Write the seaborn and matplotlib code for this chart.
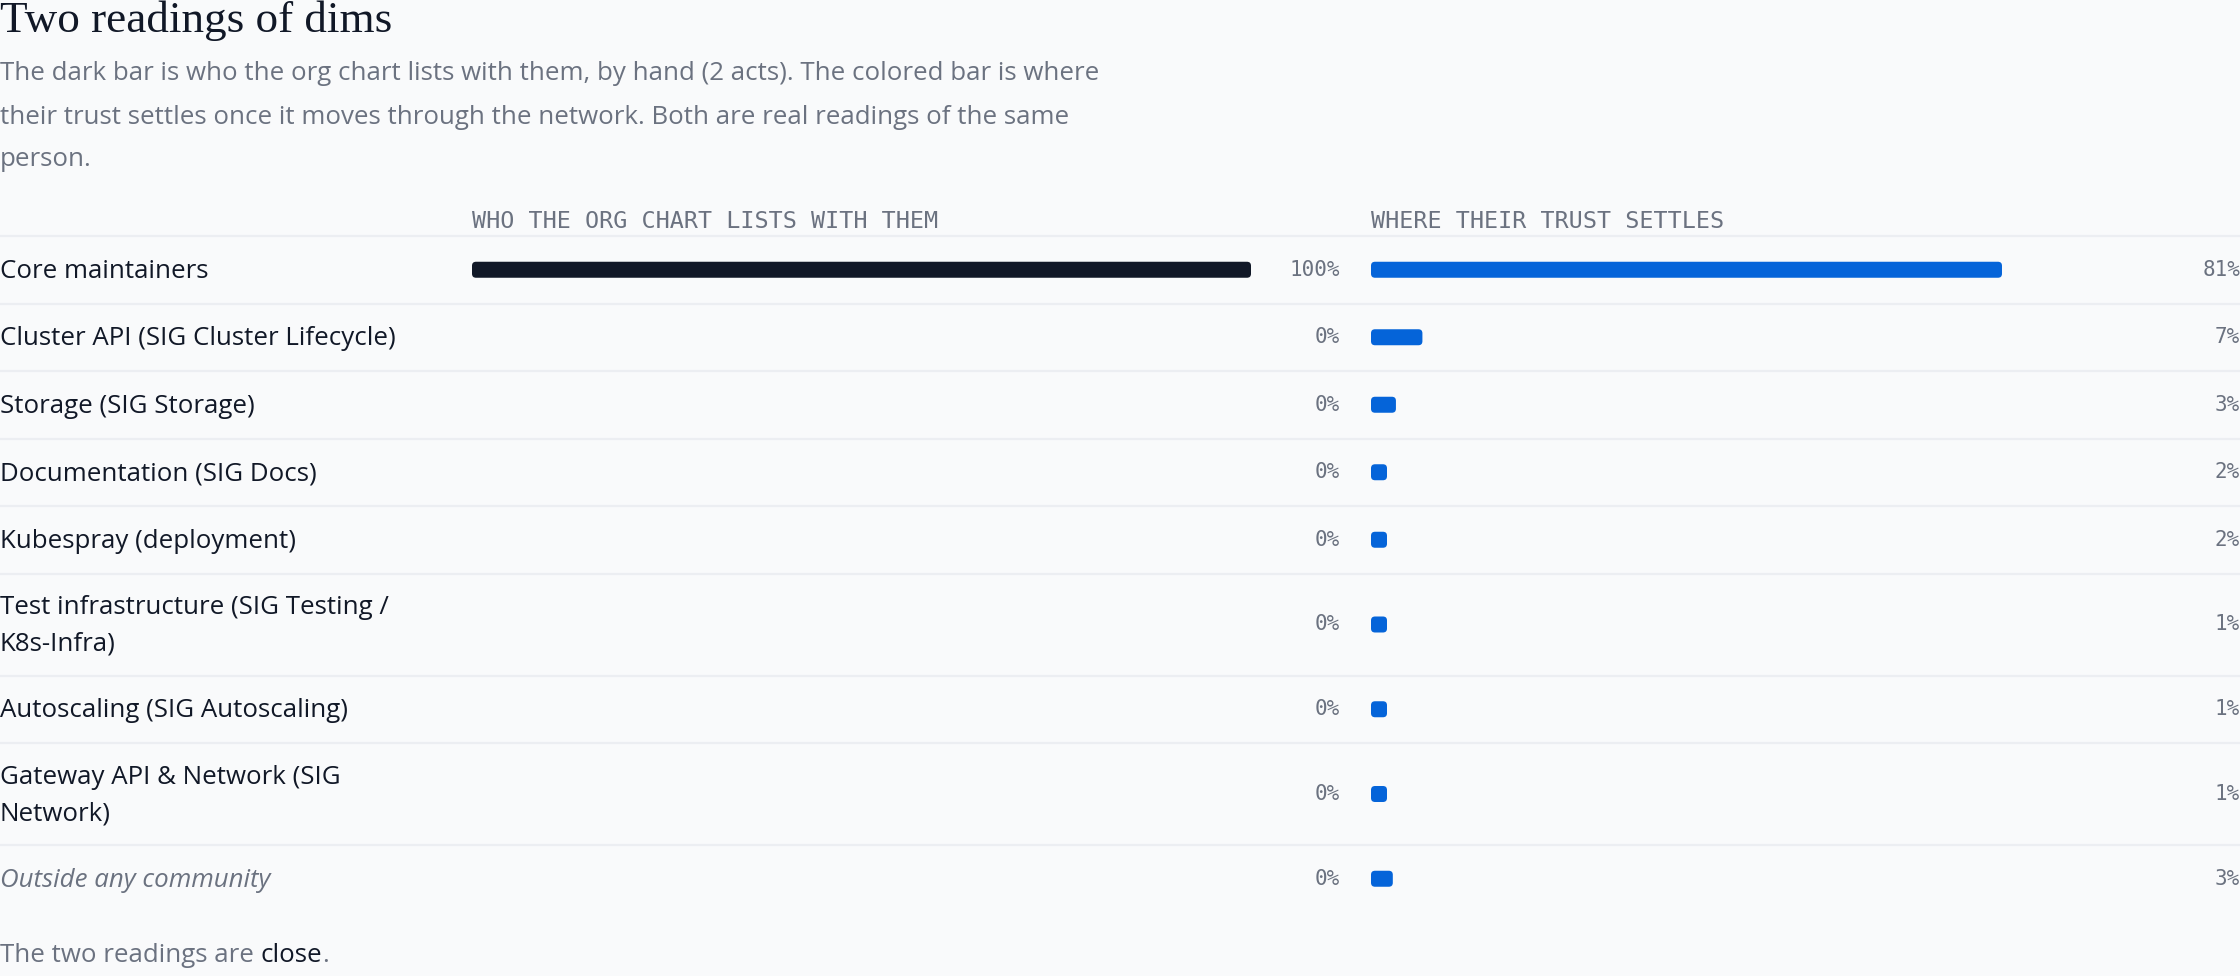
import numpy as np
import pandas as pd
import matplotlib
matplotlib.use("Agg")
import matplotlib.pyplot as plt
import seaborn as sns
from matplotlib.patches import FancyBboxPatch
from matplotlib.transforms import IdentityTransform

# data
title = "Two readings of dims"
subtitle_lines = [
    "The dark bar is who the org chart lists with them, by hand (2 acts). The colored bar is where",
    "their trust settles once it moves through the network. Both are real readings of the same",
    "person.",
]
col_headers = ["WHO THE ORG CHART LISTS WITH THEM", "WHERE THEIR TRUST SETTLES"]
groups = [
    "Core maintainers",
    "Cluster API (SIG Cluster Lifecycle)",
    "Storage (SIG Storage)",
    "Documentation (SIG Docs)",
    "Kubespray (deployment)",
    "Test infrastructure (SIG Testing /\nK8s-Infra)",
    "Autoscaling (SIG Autoscaling)",
    "Gateway API & Network (SIG\nNetwork)",
    "Outside any community",
]
org_chart = [100, 0, 0, 0, 0, 0, 0, 0, 0]
trust = [81.0, 6.6, 3.2, 1.8, 1.6, 1.2, 1.0, 1.0, 2.8]
footer_text = "The two readings are "
footer_word = "close"

W, H = 2240, 976
BG = "#f9fafb"
DARK = "#111827"
GRAY = "#6b7280"
BLUE = "#0564d9"
LINE = "#eceef2"
MONO = ["DejaVu Sans Mono"]
FS = 18.6

sns.set_theme(style="white")
plt.rcParams["font.family"] = ["Open Sans", "DejaVu Sans"]

fig = plt.figure(figsize=(22.4, 9.76), dpi=100, facecolor=BG)
canvas = fig.add_axes([0, 0, 1, 1])
canvas.set_xlim(0, W)
canvas.set_ylim(H, 0)
canvas.axis("off")

# rows: two-line labels get a taller row
nlines = [g.count("\n") + 1 for g in groups]
heights = np.array([67.5 + 34.5 * (n - 1) for n in nlines])
tops = 236 + np.concatenate([[0], np.cumsum(heights)[:-1]])
centers = tops + heights / 2

df = pd.DataFrame({"group": groups, "org": org_chart, "trust": trust, "y": centers})

track_w = 779
axL = fig.add_axes([472 / W, 0, track_w / W, 1])
axR = fig.add_axes([1371 / W, 0, track_w / W, 1])
bar_w = 16 / np.diff(centers).min()

sns.barplot(data=df, x="org", y="y", orient="h", native_scale=True, width=bar_w,
            color=DARK, saturation=1, errorbar=None, ax=axL)
sns.barplot(data=df, x="trust", y="y", orient="h", native_scale=True, width=bar_w,
            color=BLUE, saturation=1, errorbar=None, ax=axR)
for ax in (axL, axR):
    ax.set_xlim(0, 100)
    ax.set_ylim(H, 0)
    ax.set_facecolor("none")
    ax.axis("off")

# separators
canvas.hlines(tops, 0, W, color=LINE, lw=1.6, zorder=0)

# title + subtitle
canvas.text(0, 32, title, fontfamily="Liberation Serif", fontsize=32.5, color=DARK, va="baseline")
for i, line in enumerate(subtitle_lines):
    canvas.text(0, 74 + 43 * i, line, fontsize=FS, color=GRAY, va="center")

# column headers
canvas.text(472, 222, col_headers[0], family=MONO, fontsize=16.8, color=GRAY, va="center")
canvas.text(1371, 222, col_headers[1], family=MONO, fontsize=16.8, color=GRAY, va="center")

# row labels and values
for i, row in df.iterrows():
    if row["group"].startswith("Outside"):
        canvas.text(0, row["y"] + 1.5, row["group"], fontsize=FS, color=GRAY, style="italic", va="center")
    else:
        canvas.text(0, row["y"] + 1.5, row["group"], fontsize=FS, color=DARK, va="center", linespacing=1.6)
    canvas.text(1340, row["y"], f"{row['org']:.0f}%", family=MONO, fontsize=15, color=GRAY,
                ha="right", va="center")
    canvas.text(2240, row["y"], f"{row['trust']:.0f}%", family=MONO, fontsize=15, color=GRAY,
                ha="right", va="center")

# rounded bars (with a minimum visible width on the trust side)
fig.canvas.draw()
for ax, min_px in ((axL, 0), (axR, 16)):
    for p in list(ax.patches):
        (x0, y0), (x1, y1) = ax.transData.transform(
            [[p.get_x(), p.get_y()], [p.get_x() + p.get_width(), p.get_y() + p.get_height()]])
        w = x1 - x0
        fc = p.get_facecolor()
        p.remove()
        if w <= 0:
            continue
        w = max(w, min_px)
        ylo, yhi = sorted([y0, y1])
        fig.add_artist(FancyBboxPatch((x0, ylo), w, yhi - ylo, boxstyle="round,pad=0,rounding_size=4",
                                      transform=IdentityTransform(), fc=fc, ec="none"))

# footer with one dark word
r = fig.canvas.get_renderer()
t = canvas.text(0, 955, footer_text, fontsize=FS, color=GRAY, va="center")
w1 = t.get_window_extent(renderer=r).width
canvas.text(w1, 955, footer_word, fontsize=FS, color=DARK, va="center")
probe = canvas.text(0, 955, footer_text + footer_word, fontsize=FS, va="center")
w_all = probe.get_window_extent(renderer=r).width
probe.remove()
canvas.text(w_all, 955, ".", fontsize=FS, color=GRAY, va="center")

fig.savefig("out.png", dpi=100, facecolor=BG)
